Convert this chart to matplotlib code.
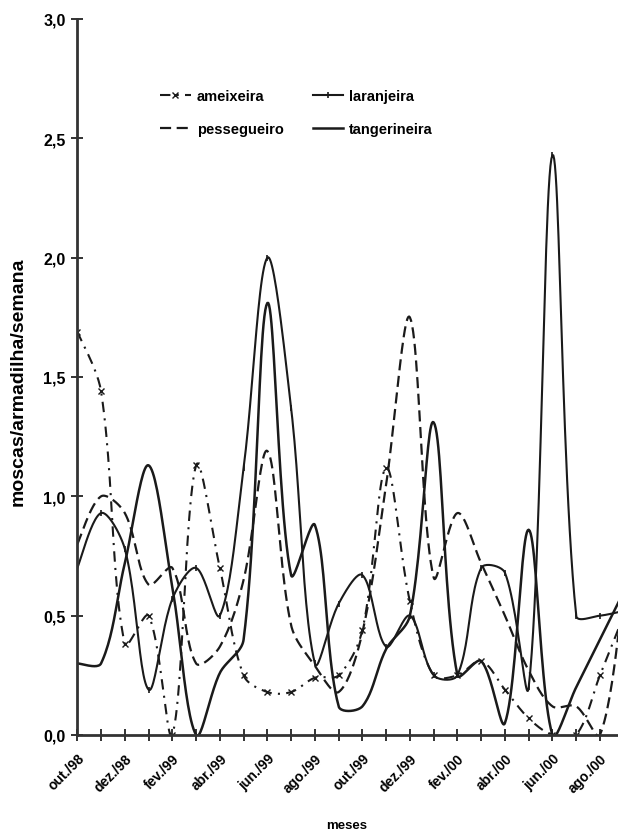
import numpy as np
import matplotlib
matplotlib.use('Agg')
import matplotlib.pyplot as plt

# ---- data (monthly, out/98 .. set/00) ----
months = ['out./98', 'nov./98', 'dez./98', 'jan./99', 'fev./99', 'mar./99', 'abr./99',
          'mai./99', 'jun./99', 'jul./99', 'ago./99', 'set./99', 'out./99', 'nov./99',
          'dez./99', 'jan./00', 'fev./00', 'mar./00', 'abr./00', 'mai./00', 'jun./00',
          'jul./00', 'ago./00', 'set./00']

ameixeira = [1.69, 1.44, 0.38, 0.50, 0.00, 1.13, 0.70, 0.25, 0.18, 0.18, 0.24, 0.25,
             0.44, 1.12, 0.56, 0.25, 0.25, 0.31, 0.19, 0.07, 0.00, 0.00, 0.25, 0.50]
laranjeira = [0.70, 0.93, 0.78, 0.19, 0.57, 0.70, 0.50, 1.12, 2.00, 1.37, 0.30, 0.55,
              0.67, 0.37, 0.50, 0.25, 0.25, 0.70, 0.68, 0.20, 2.43, 0.50, 0.50, 0.52]
pessegueiro = [0.80, 1.00, 0.93, 0.63, 0.70, 0.30, 0.37, 0.65, 1.19, 0.46, 0.29, 0.18,
               0.43, 1.05, 1.75, 0.66, 0.93, 0.72, 0.50, 0.27, 0.12, 0.12, 0.00, 0.60]
tangerineira = [0.30, 0.30, 0.72, 1.13, 0.62, 0.00, 0.26, 0.40, 1.81, 0.67, 0.88, 0.12,
                0.12, 0.36, 0.50, 1.31, 0.25, 0.31, 0.05, 0.86, 0.00, 0.20, 0.40, 0.60]

yticks = [0.0, 0.5, 1.0, 1.5, 2.0, 2.5, 3.0]
ytick_labels = ['0,0', '0,5', '1,0', '1,5', '2,0', '2,5', '3,0']

N = 24  # samples per segment for the smoothed line
SX, SY = 23.76, 238.7  # approx. pixels per month / per unit (for smoothing geometry)


def smooth(vals, n=N, f=1.0 / 3.0):
    """Spreadsheet-style smoothed line: cubic Bezier through every point."""
    v = np.asarray(vals, float)
    P = np.column_stack([np.arange(len(v)) * SX, v * SY])
    k = len(P)
    cin = P.copy()
    cout = P.copy()
    for i in range(k):
        if i == 0:
            cout[i] = P[0] + (P[1] - P[0]) / 6.0
        elif i == k - 1:
            cin[i] = P[-1] - (P[-1] - P[-2]) / 6.0
        else:
            d = P[i + 1] - P[i - 1]
            L0 = np.hypot(*(P[i] - P[i - 1]))
            L1 = np.hypot(*(P[i + 1] - P[i]))
            cin[i] = P[i] - d * f * L0 / (L0 + L1)
            cout[i] = P[i] + d * f * L1 / (L0 + L1)
    s = np.linspace(0, 1, n, endpoint=False)[:, None]
    segs = []
    for i in range(k - 1):
        b = ((1 - s) ** 3 * P[i] + 3 * (1 - s) ** 2 * s * cout[i]
             + 3 * (1 - s) * s ** 2 * cin[i + 1] + s ** 3 * P[i + 1])
        segs.append(b)
    segs.append(P[-1:])
    pts = np.vstack(segs)
    return pts[:, 0] / SX, pts[:, 1] / SY


plt.rcParams['font.family'] = ['Liberation Sans', 'DejaVu Sans']
plt.rcParams['font.weight'] = 'bold'

fig = plt.figure(figsize=(6.18, 8.37), dpi=100)
ax = fig.add_axes([77.3 / 618, 101 / 837, 540.7 / 618, 716 / 837])

x, y = smooth(ameixeira)
ax.plot(x, y, color='#1a1a1a', lw=1.5, dashes=(5, 3, 1, 3), marker='x', ms=4,
        mew=1.0, markevery=N, label='ameixeira')
x, y = smooth(pessegueiro)
ax.plot(x, y, color='#1a1a1a', lw=1.6, dashes=(5, 2.5), label='pessegueiro')
x, y = smooth(laranjeira)
ax.plot(x, y, color='#1a1a1a', lw=1.5, marker='|', ms=5, mew=1.2, markevery=N,
        label='laranjeira')
x, y = smooth(tangerineira)
ax.plot(x, y, color='#1a1a1a', lw=1.8, label='tangerineira')

ax.set_xlim(0, 22.76)
ax.set_ylim(0, 3.0)

ax.set_yticks(yticks)
ax.set_yticklabels(ytick_labels, fontsize=11.5, fontweight='bold')
ax.set_xticks(range(23))
ax.set_xticklabels([m if i % 2 == 0 else '' for i, m in enumerate(months[:23])],
                   rotation=45, ha='right', rotation_mode='anchor',
                   fontsize=10, fontweight='bold')
ax.tick_params(axis='both', direction='inout', length=9, width=1.4, color='#333333', pad=4)
ax.tick_params(axis='x', pad=7)

for side in ['top', 'right']:
    ax.spines[side].set_visible(False)
for side in ['left', 'bottom']:
    ax.spines[side].set_linewidth(2.0)
    ax.spines[side].set_color('#333333')

h, l = ax.get_legend_handles_labels()
leg = ax.legend(h, l, ncol=2, loc='upper left', bbox_to_anchor=(0.129, 0.921),
                frameon=False, handlelength=2.1, handletextpad=0.4, columnspacing=2.0,
                labelspacing=1.35, prop={'weight': 'bold', 'size': 10.5})

fig.text(18 / 618, 1 - 382 / 837, 'moscas/armadilha/semana', rotation=90,
         ha='center', va='center', fontsize=14, fontweight='bold')
fig.text(347 / 618, 1 - 826 / 837, 'meses', ha='center', va='center',
         fontsize=9.5, fontweight='bold')

fig.savefig('out.png', dpi=100)
